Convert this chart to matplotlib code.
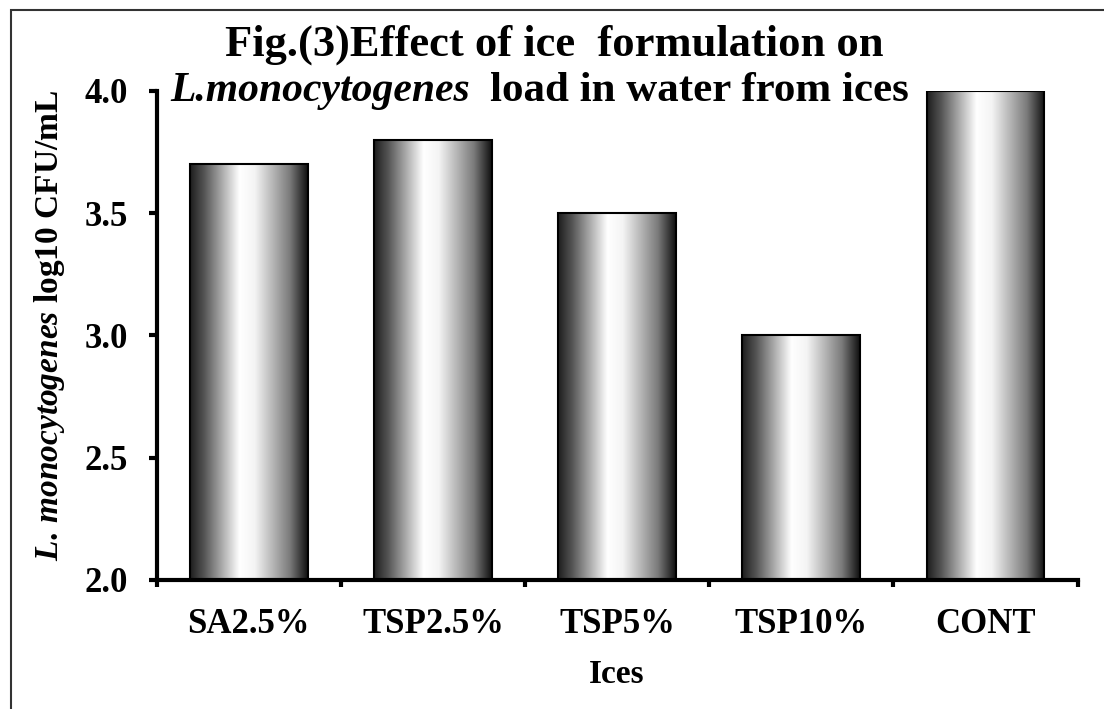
import numpy as np
import matplotlib
matplotlib.use("Agg")
import matplotlib.pyplot as plt
from matplotlib.colors import LinearSegmentedColormap
from matplotlib.patches import Rectangle

# Data
ices = ["SA2.5%", "TSP2.5%", "TSP5%", "TSP10%", "CONT"]
load = [3.7, 3.8, 3.5, 3.0, 4.0]
y_ticks = [2.0, 2.5, 3.0, 3.5, 4.0]

plt.rcParams["font.family"] = ["Liberation Serif", "DejaVu Serif"]
plt.rcParams["font.weight"] = "bold"
plt.rcParams["mathtext.fontset"] = "custom"
plt.rcParams["mathtext.it"] = "Liberation Serif:italic:bold"
plt.rcParams["mathtext.rm"] = "Liberation Serif:bold"

W, H = 1104, 709
fig = plt.figure(figsize=(W / 100, H / 100), dpi=100)
ax = fig.add_axes([0.142, 0.182, 0.834, 0.690])

# outer frame of the picture
fig.patches.append(Rectangle((0.010, -0.05), 1.2, 1.036, transform=fig.transFigure,
                             fill=False, edgecolor="#333333", linewidth=1.5))

x = np.arange(len(ices))
bars = ax.bar(x, load, width=0.64, color="none", edgecolor="black",
              linewidth=1.5, zorder=3)

# cylinder-like shading
cyl = LinearSegmentedColormap.from_list(
    "cyl", [(0.0, "#1e1e1e"), (0.12, "#555555"), (0.42, "#ffffff"),
            (0.55, "#f4f4f4"), (0.85, "#7a7a7a"), (1.0, "#101010")])
grad = np.linspace(0, 1, 256).reshape(1, -1)
for b in bars:
    x0, w, h = b.get_x(), b.get_width(), b.get_height()
    im = ax.imshow(grad, cmap=cyl, aspect="auto", extent=[x0, x0 + w, 2.0, h],
                   zorder=2, interpolation="bicubic")
    im.set_clip_path(b)

ax.set_xlim(-0.5, len(ices) - 0.5)
ax.set_ylim(2.0, 4.0)
ax.set_yticks(y_ticks)
ax.set_yticklabels([f"{v:.1f}" for v in y_ticks])
ax.set_xticks(x)
ax.set_xticklabels(ices)
ax.set_xticks(np.arange(-0.5, len(ices), 1.0), minor=True)
ax.tick_params(axis="x", which="major", length=0, pad=20, labelsize=25)
ax.tick_params(axis="x", which="minor", length=5, width=3, direction="out")
ax.tick_params(axis="y", length=6, width=3, direction="out", pad=15, labelsize=25)

for s in ["top", "right"]:
    ax.spines[s].set_visible(False)
for s in ["left", "bottom"]:
    ax.spines[s].set_linewidth(3)

ax.set_xlabel("Ices", fontsize=24, fontweight="bold", labelpad=13)
ax.set_ylabel(r"$\mathit{L.\,monocytogenes}$ log10 CFU/mL", fontsize=24,
              fontweight="bold")
ax.yaxis.set_label_coords(-0.098, 0.52)

fig.text(0.502, 0.937, "Fig.(3)Effect of ice  formulation on", ha="center", va="center",
         fontsize=32, fontweight="bold")

# second title line: italic species name followed by upright text
t1 = fig.text(170 / W, 0.858, "L.monocytogenes", ha="left", va="baseline",
              fontsize=30, fontweight="bold", fontstyle="italic")
fig.canvas.draw()
right = t1.get_window_extent().x1
fig.text((right + 20) / W, 0.858, "load in water from ices", ha="left", va="baseline",
         fontsize=31, fontweight="bold")

fig.savefig("out.png", dpi=100)
